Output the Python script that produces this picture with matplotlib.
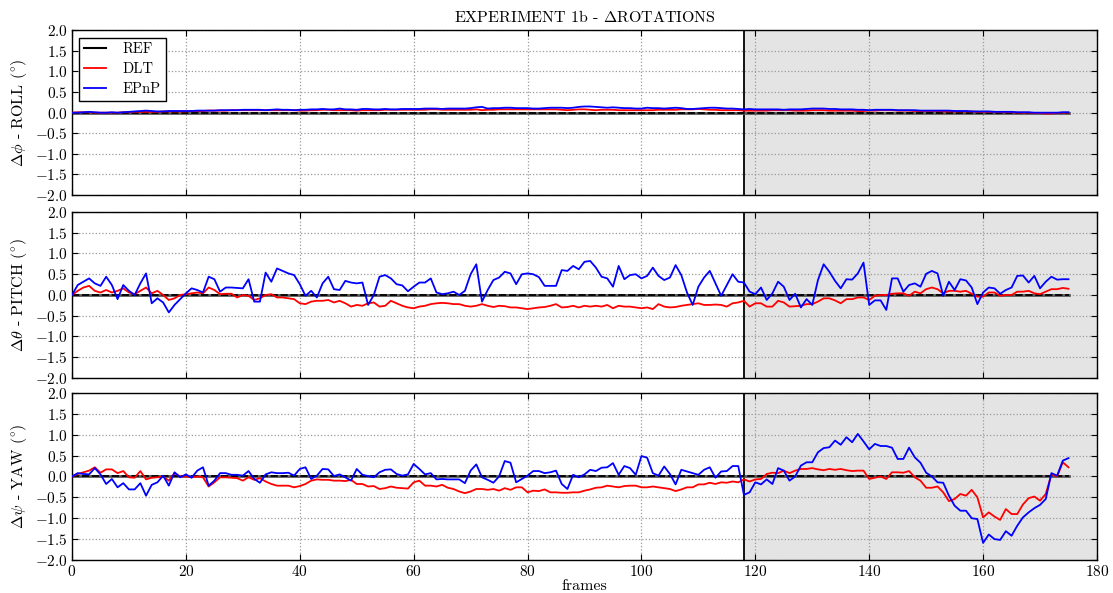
import matplotlib
matplotlib.use("Agg")
import matplotlib.pyplot as plt
from matplotlib.ticker import FuncFormatter
import numpy as np

plt.rcParams['font.family'] = ['cmr10', 'DejaVu Serif']
plt.rcParams['mathtext.fontset'] = 'cm'
plt.rcParams['axes.formatter.use_mathtext'] = True
plt.rcParams['axes.unicode_minus'] = True

frames = list(range(176))

roll_epnp = [
    0.0,0.0,0.01,0.02,0.01,0.0,0.0,0.01,0.0,0.01,
    0.02,0.03,0.04,0.05,0.04,0.03,0.03,0.04,0.04,0.04,
    0.04,0.04,0.05,0.05,0.05,0.05,0.06,0.06,0.06,0.06,
    0.07,0.07,0.07,0.07,0.06,0.07,0.08,0.07,0.07,0.06,
    0.07,0.07,0.08,0.08,0.09,0.08,0.08,0.1,0.08,0.08,
    0.07,0.09,0.09,0.08,0.08,0.09,0.08,0.08,0.09,0.09,
    0.09,0.09,0.1,0.1,0.1,0.09,0.1,0.1,0.1,0.1,
    0.11,0.13,0.14,0.1,0.11,0.11,0.12,0.12,0.11,0.11,
    0.11,0.1,0.1,0.11,0.12,0.12,0.12,0.11,0.12,0.14,
    0.15,0.15,0.14,0.13,0.12,0.13,0.12,0.11,0.11,0.1,
    0.1,0.12,0.11,0.11,0.1,0.11,0.12,0.11,0.09,0.09,
    0.1,0.11,0.12,0.12,0.11,0.1,0.1,0.09,0.08,0.09,
    0.08,0.08,0.08,0.08,0.08,0.07,0.08,0.08,0.08,0.09,
    0.1,0.1,0.1,0.09,0.09,0.08,0.08,0.08,0.07,0.07,
    0.06,0.07,0.07,0.07,0.07,0.06,0.06,0.06,0.06,0.05,
    0.05,0.05,0.05,0.05,0.05,0.04,0.04,0.04,0.03,0.03,
    0.03,0.03,0.02,0.02,0.02,0.02,0.01,0.01,0.01,0.0,
    0.0,0.0,0.0,0.0,0.01,0.01]

roll_dlt = [
    0.0,0.01,0.01,0.01,0.0,0.0,0.0,0.0,0.0,0.01,
    0.01,0.02,0.02,0.02,0.02,0.02,0.03,0.03,0.03,0.03,
    0.03,0.04,0.04,0.04,0.05,0.05,0.05,0.05,0.06,0.06,
    0.06,0.06,0.06,0.06,0.06,0.06,0.06,0.06,0.06,0.06,
    0.05,0.05,0.06,0.06,0.07,0.07,0.06,0.06,0.06,0.06,
    0.05,0.06,0.06,0.06,0.06,0.07,0.07,0.07,0.07,0.07,
    0.07,0.07,0.07,0.08,0.08,0.07,0.07,0.07,0.07,0.07,
    0.07,0.08,0.06,0.07,0.07,0.08,0.08,0.08,0.08,0.08,
    0.08,0.08,0.08,0.08,0.08,0.08,0.07,0.06,0.07,0.08,
    0.08,0.07,0.06,0.07,0.07,0.07,0.06,0.06,0.06,0.06,
    0.06,0.06,0.06,0.07,0.07,0.07,0.07,0.08,0.08,0.08,
    0.09,0.08,0.07,0.07,0.06,0.06,0.06,0.06,0.05,0.05,
    0.05,0.05,0.05,0.06,0.06,0.06,0.06,0.05,0.05,0.05,
    0.06,0.06,0.06,0.05,0.05,0.05,0.05,0.05,0.04,0.04,
    0.05,0.05,0.06,0.06,0.06,0.05,0.05,0.05,0.04,0.04,
    0.04,0.04,0.04,0.03,0.03,0.03,0.03,0.03,0.03,0.02,
    0.02,0.02,0.02,0.01,0.01,0.01,0.0,0.0,0.0,-0.01,
    -0.01,-0.02,-0.02,-0.01,0.0,0.0]

pitch_epnp = [
    0,0.24,0.32,0.4,0.28,0.22,0.44,0.24,-0.1,0.24,
    0.1,0.0,0.28,0.52,-0.2,-0.08,-0.18,-0.42,-0.24,-0.1,
    0.04,0.16,0.12,0.06,0.44,0.38,0.08,0.18,0.18,0.17,
    0.16,0.38,-0.16,-0.16,0.54,0.32,0.64,0.58,0.52,0.48,
    0.26,-0.02,0.1,-0.06,0.28,0.44,0.14,0.12,0.34,0.3,
    0.28,0.3,-0.24,0.0,0.44,0.48,0.4,0.26,0.23,0.09,
    0.2,0.3,0.3,0.4,0.06,0.02,0.04,0.08,0.0,0.1,
    0.5,0.74,-0.16,0.12,0.36,0.42,0.56,0.52,0.26,0.5,
    0.52,0.5,0.43,0.22,0.22,0.22,0.6,0.58,0.7,0.62,
    0.8,0.82,0.66,0.44,0.4,0.2,0.7,0.38,0.48,0.5,
    0.4,0.46,0.66,0.46,0.36,0.42,0.72,0.48,0.06,-0.24,
    0.2,0.42,0.58,0.28,-0.02,0.24,0.5,0.32,
    0.3,0.08,0.02,0.18,-0.12,0.04,0.32,0.2,-0.12,0.03,
    -0.3,-0.1,-0.24,0.36,0.74,0.56,0.34,0.16,0.38,0.37,
    0.52,0.78,-0.24,-0.13,-0.13,-0.36,0.4,0.4,0.08,0.24,
    0.28,0.2,0.51,0.58,0.52,-0.02,0.32,0.12,0.38,0.35,
    0.18,-0.22,0.06,0.18,0.16,0.03,0.12,0.18,0.46,0.47,
    0.3,0.46,0.16,0.32,0.44,0.37,0.38,0.38]

pitch_dlt = [
    0,0.1,0.18,0.22,0.1,0.06,0.12,0.06,0.1,0.16,
    0.06,0.02,0.1,0.18,0.04,0.1,0.0,-0.12,-0.08,0.0,
    0.02,0.04,0.06,0.04,0.18,0.12,0.02,0.03,0.03,-0.06,
    0.0,-0.02,-0.12,-0.08,0.0,0.02,-0.06,-0.06,-0.08,-0.1,
    -0.2,-0.22,-0.16,-0.14,-0.14,-0.12,-0.18,-0.14,-0.2,-0.28,
    -0.24,-0.26,-0.2,-0.18,-0.28,-0.26,-0.14,-0.2,-0.26,-0.3,
    -0.32,-0.28,-0.26,-0.22,-0.2,-0.19,-0.2,-0.22,-0.22,-0.26,
    -0.28,-0.26,-0.22,-0.26,-0.29,-0.26,-0.27,-0.3,-0.3,-0.32,
    -0.34,-0.32,-0.3,-0.29,-0.26,-0.22,-0.3,-0.29,-0.26,-0.3,
    -0.26,-0.28,-0.26,-0.28,-0.24,-0.32,-0.26,-0.28,-0.28,-0.3,
    -0.32,-0.3,-0.34,-0.22,-0.28,-0.3,-0.29,-0.26,-0.24,-0.22,
    -0.2,-0.24,-0.24,-0.23,-0.24,-0.28,-0.2,-0.18,
    -0.14,-0.28,-0.2,-0.2,-0.28,-0.28,-0.14,-0.18,-0.28,-0.27,
    -0.26,-0.22,-0.22,-0.16,-0.08,-0.08,-0.13,-0.2,-0.1,-0.1,
    -0.06,-0.06,-0.12,-0.02,0.0,0.0,0.03,0.04,0.04,-0.02,
    0.08,0.04,0.14,0.18,0.14,0.04,0.1,0.1,0.08,0.1,
    0.03,-0.04,-0.04,0.06,0.06,-0.02,0.0,0.0,0.08,0.08,
    0.1,0.04,0.02,0.08,0.14,0.14,0.17,0.15]

yaw_epnp = [
    0,0.08,0.06,0.05,0.2,0.05,-0.18,-0.06,-0.26,-0.16,
    -0.31,-0.31,-0.16,-0.46,-0.2,-0.14,0.02,-0.22,0.1,-0.02,
    0.05,-0.03,0.14,0.22,-0.22,-0.1,0.08,0.08,0.04,0.04,
    0.02,0.13,-0.06,-0.15,0.05,0.1,0.08,0.08,0.09,0.02,
    0.18,0.22,-0.06,0.02,0.18,0.17,0.01,0.05,-0.02,-0.1,
    0.18,0.04,0.01,-0.02,0.1,0.16,0.17,0.06,0.02,0.05,
    0.3,0.18,0.05,0.08,-0.07,-0.06,-0.07,-0.07,-0.07,-0.16,
    0.14,0.29,-0.02,-0.08,-0.15,0.0,0.37,0.33,-0.14,-0.06,
    0.02,0.13,0.13,0.08,0.1,0.14,-0.18,-0.3,0.04,-0.02,
    0.05,0.16,0.13,0.21,0.22,0.32,0.04,0.25,0.2,0.04,
    0.49,0.45,0.08,0.02,0.24,0.06,-0.19,0.16,0.12,0.08,
    0.04,0.16,0.22,-0.03,0.12,0.13,0.25,0.25,
    -0.44,-0.38,-0.14,-0.19,-0.07,-0.18,0.2,0.14,-0.1,0.0,
    0.26,0.34,0.34,0.58,0.68,0.7,0.86,0.76,0.94,0.82,
    1.02,0.84,0.65,0.78,0.73,0.73,0.69,0.42,0.42,0.69,
    0.46,0.33,0.09,0.0,-0.14,-0.15,-0.46,-0.7,-0.82,-0.82,
    -1.0,-1.02,-1.59,-1.39,-1.5,-1.52,-1.31,-1.42,-1.18,-0.98,
    -0.86,-0.76,-0.68,-0.54,0.08,0.02,0.38,0.44]

yaw_dlt = [
    0,0.06,0.1,0.14,0.22,0.09,0.17,0.17,0.08,0.13,
    -0.02,-0.03,0.13,-0.07,-0.03,-0.02,0.0,-0.1,0.08,0.0,
    0.0,-0.02,0.0,-0.02,-0.24,-0.14,-0.02,-0.02,-0.03,-0.04,
    -0.1,-0.02,-0.08,-0.04,-0.12,-0.18,-0.22,-0.22,-0.22,-0.26,
    -0.23,-0.18,-0.1,-0.07,-0.08,-0.08,-0.1,-0.1,-0.11,-0.08,
    -0.18,-0.18,-0.24,-0.23,-0.3,-0.28,-0.24,-0.27,-0.28,-0.29,
    -0.14,-0.1,-0.22,-0.22,-0.24,-0.2,-0.27,-0.3,-0.36,-0.4,
    -0.36,-0.3,-0.3,-0.32,-0.3,-0.34,-0.28,-0.32,-0.26,-0.26,
    -0.38,-0.34,-0.35,-0.31,-0.38,-0.38,-0.39,-0.39,-0.38,-0.38,
    -0.34,-0.31,-0.27,-0.26,-0.22,-0.24,-0.26,-0.23,-0.22,-0.22,
    -0.26,-0.26,-0.24,-0.26,-0.28,-0.3,-0.35,-0.31,-0.26,-0.26,
    -0.19,-0.19,-0.15,-0.18,-0.14,-0.15,-0.12,-0.14,
    -0.07,-0.12,-0.07,-0.06,0.06,0.09,0.08,0.14,0.08,0.14,
    0.18,0.18,0.2,0.17,0.15,0.18,0.16,0.18,0.15,0.13,
    0.14,0.14,-0.06,-0.03,0.0,-0.06,0.1,0.1,0.09,0.13,
    -0.02,-0.1,-0.27,-0.27,-0.24,-0.38,-0.59,-0.54,-0.42,-0.46,
    -0.32,-0.5,-0.98,-0.86,-0.96,-1.04,-0.78,-0.9,-0.9,-0.67,
    -0.52,-0.48,-0.58,-0.42,0.05,0.0,0.34,0.22]

ref = [0.0] * len(frames)
split_frame = 118
x_ticks = [0, 20, 40, 60, 80, 100, 120, 140, 160, 180]
y_ticks = [-2.0, -1.5, -1.0, -0.5, 0.0, 0.5, 1.0, 1.5, 2.0]

ylabels = [r'$\Delta\phi$ - ROLL ($^{\circ}$)',
           r'$\Delta\theta$ - PITCH ($^{\circ}$)',
           r'$\Delta\psi$ - YAW ($^{\circ}$)']
series = [(roll_dlt, roll_epnp), (pitch_dlt, pitch_epnp), (yaw_dlt, yaw_epnp)]

yfmt = FuncFormatter(lambda v, p: r'$%.1f$' % v)
xfmt = FuncFormatter(lambda v, p: r'$%d$' % int(round(v)))

fig = plt.figure(figsize=(11.13, 5.93), dpi=100)
boxes = [(0.0647, 0.671, 0.9209, 0.278),
         (0.0647, 0.3626, 0.9209, 0.2799),
         (0.0647, 0.0557, 0.9209, 0.2816)]

axes = []
for i, (box, (dlt, epnp), yl) in enumerate(zip(boxes, series, ylabels)):
    ax = fig.add_axes(box)
    axes.append(ax)
    ax.axvspan(split_frame, 180, color='#e4e4e4', zorder=0, lw=0)
    ax.axvline(split_frame, color='black', lw=1.3, zorder=1)
    ax.grid(True, color='#9a9a9a', linestyle=':', linewidth=0.9, zorder=1)
    ax.set_axisbelow(True)
    ax.plot(frames, ref, color='0.35', lw=2.0, zorder=2)
    l_ref, = ax.plot(frames, ref, color='black', lw=1.3, linestyle='--', dashes=(4, 1.5), zorder=3, label='REF')
    l_dlt, = ax.plot(frames, dlt, color='#ff0000', lw=1.3, zorder=4, label='DLT')
    l_epnp, = ax.plot(frames, epnp, color='#0000ff', lw=1.3, zorder=5, label='EPnP')
    ax.set_xlim(0, 180)
    ax.set_ylim(-2.0, 2.0)
    ax.set_xticks(x_ticks)
    ax.set_yticks(y_ticks)
    ax.yaxis.set_major_formatter(yfmt)
    ax.xaxis.set_major_formatter(xfmt)
    ax.tick_params(direction='in', top=True, right=True, labelsize=11, length=4, width=0.8, pad=3)
    ax.set_ylabel(yl, fontsize=11.5, labelpad=4)
    for sp in ax.spines.values():
        sp.set_linewidth(1.0)
    if i < 2:
        ax.tick_params(labelbottom=False)
    if i == 0:
        ax.set_title(r'EXPERIMENT 1b - $\Delta$ROTATIONS', fontsize=11.5, pad=6)
        h_ref = matplotlib.lines.Line2D([], [], color='black', lw=1.5)
        leg = ax.legend([h_ref, l_dlt, l_epnp], ['REF', 'DLT', 'EPnP'], loc='upper left',
                        fontsize=10.5, fancybox=False, framealpha=1, edgecolor='black',
                        handlelength=1.5, borderpad=0.35, labelspacing=0.42, handletextpad=1.1,
                        borderaxespad=0.5)
        leg.get_frame().set_linewidth(1.0)

axes[2].set_xlabel('frames', fontsize=11.5, labelpad=0)

fig.savefig('out.png', dpi=100)
